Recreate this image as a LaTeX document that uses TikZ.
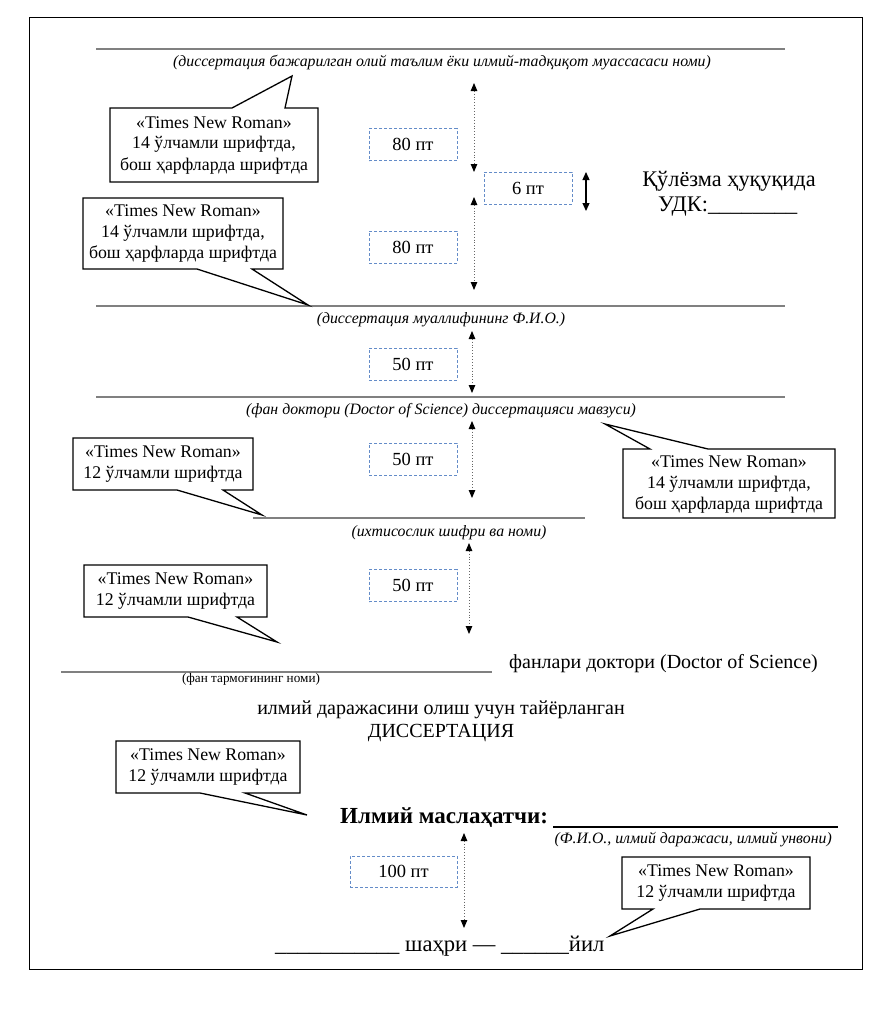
\documentclass[tikz,border=0pt]{standalone}
\usepackage{fontspec}
\setmainfont{Liberation Serif}
\usetikzlibrary{arrows.meta}
\definecolor{hgray}{RGB}{128,128,128}
\definecolor{dblue}{RGB}{100,140,200}
\tikzset{
  hline/.style={draw=hgray, line width=1.4pt},
  callbox/.style={draw=black, line width=1.3pt, fill=white, line join=miter},
  calltext/.style={align=center, font=\fontsize{17.8}{21}\selectfont, inner sep=0pt},
  dbox/.style={draw=dblue, dashed, dash pattern=on 3pt off 2pt, line width=0.9pt, minimum height=32pt, inner sep=0pt, font=\fontsize{18.5}{21}\selectfont},
  darrow/.style={draw=black!60, dotted, line width=0.9pt, {Triangle[length=8pt,width=6.5pt,fill=black,color=black]}-{Triangle[length=8pt,width=6.5pt,fill=black,color=black]}},
  sarrow/.style={draw=black, line width=1.3pt, {Triangle[length=8pt,width=7pt]}-{Triangle[length=8pt,width=7pt]}},
  capt/.style={font=\fontsize{15.8}{18}\itshape\selectfont, inner sep=0pt, anchor=base},
  mtext/.style={font=\fontsize{20}{23}\selectfont, inner sep=0pt, anchor=base},
}
\begin{document}
\begin{tikzpicture}[x=1pt,y=-1pt]
\useasboundingbox (0,0) rectangle (890,1009);
% frame
\draw[line width=1pt] (29,17) rectangle (862,969);

% horizontal lines
\coordinate (l1a) at (96,49);  \coordinate (l1b) at (785,49);
\coordinate (l2a) at (96,306); \coordinate (l2b) at (785,306);
\coordinate (l3a) at (96,397); \coordinate (l3b) at (785,397);
\coordinate (l4a) at (253,518); \coordinate (l4b) at (585,518);
\coordinate (l5a) at (61,672); \coordinate (l5b) at (492,672);
\coordinate (l6a) at (553,827); \coordinate (l6b) at (838,827);
\draw[hline] (l1a) -- (l1b);
\draw[hline] (l2a) -- (l2b);
\draw[hline] (l3a) -- (l3b);
\draw[hline] (l4a) -- (l4b);
\draw[hline] (l5a) -- (l5b);
\draw[line width=1.3pt] (l6a) -- (l6b);

% captions
\node[capt] (cap1) at (442,66) {(диссертация бажарилган олий таълим ёки илмий-тадқиқот муассасаси номи)};
\node[capt] (cap2) at (441,323) {(диссертация муаллифининг Ф.И.О.)};
\node[capt] (cap3) at (441,414) {(фан доктори (Doctor of Science) диссертацияси мавзуси)};
\node[capt] (cap4) at (449,536) {(ихтисослик шифри ва номи)};
\node[inner sep=0pt, anchor=base, font=\fontsize{13.2}{15}\selectfont] (cap5) at (251,682) {(фан тармоғининг номи)};
\node[capt, anchor=base east] (cap6) at (832,843) {(Ф.И.О., илмий даражаси, илмий унвони)};

% main texts
\node[mtext, font=\fontsize{22.3}{25}\selectfont] (kul) at (729,186) {Қўлёзма ҳуқуқида};
\node[mtext, anchor=base west, font=\fontsize{22.3}{25}\selectfont] (udk) at (658,211) {УДК:\_\_\_\_\_\_\_\_};
\node[mtext, anchor=base west] (fan) at (509,668) {фанлари доктори (Doctor of Science)};
\node[mtext] (ilm) at (441,714) {илмий даражасини олиш учун тайёрланган};
\node[mtext] (dis) at (441,737) {ДИССЕРТАЦИЯ};
\node[mtext, anchor=base west, font=\fontsize{23}{26}\bfseries\selectfont] (mas) at (340,823) {Илмий маслаҳатчи:};
\node[mtext, anchor=base west, font=\fontsize{22.6}{25}\selectfont] (shah) at (275,951) {\_\_\_\_\_\_\_\_\_\_\_ шаҳри — \_\_\_\_\_\_йил};

% dashed boxes
\node[dbox, minimum width=88pt] (d1) at (413,144.5) {80 пт};
\node[dbox, minimum width=88pt] (d2) at (413,247) {80 пт};
\node[dbox, minimum width=88pt] (d6) at (528,188) {6 пт};
\node[dbox, minimum width=88pt] (d3) at (413,364) {50 пт};
\node[dbox, minimum width=88pt] (d4) at (413,459) {50 пт};
\node[dbox, minimum width=88pt] (d5) at (413,585.5) {50 пт};
\node[dbox, minimum width=107pt, minimum height=31pt] (d7) at (403.5,871.5) {100 пт};

% dotted arrows
\coordinate (a1t) at (474,83);  \coordinate (a1b) at (474,172);
\coordinate (a2t) at (474,197); \coordinate (a2b) at (474,290);
\coordinate (a3t) at (472,331); \coordinate (a3b) at (472,393);
\coordinate (a4t) at (472,421); \coordinate (a4b) at (472,498);
\coordinate (a5t) at (469,543); \coordinate (a5b) at (469,634);
\coordinate (a6t) at (464,833); \coordinate (a6b) at (464,928);
\draw[darrow] (a1t) -- (a1b);
\draw[darrow] (a2t) -- (a2b);
\draw[darrow] (a3t) -- (a3b);
\draw[darrow] (a4t) -- (a4b);
\draw[darrow] (a5t) -- (a5b);
\draw[darrow] (a6t) -- (a6b);
\coordinate (s1t) at (586,172); \coordinate (s1b) at (586,211);
\draw[sarrow] (s1t) -- (s1b);

% callouts
\draw[callbox] (110,108) -- (232,108) -- (292,76) -- (285,108) -- (318,108) -- (318,182) -- (110,182) -- cycle;
\node[calltext] (c1) at (214,145) {«Times New Roman»\\14 ўлчамли шрифтда,\\бош ҳарфларда шрифтда};

\draw[callbox] (83,198) -- (283,198) -- (283,269) -- (252,269) -- (308,305) -- (197,269) -- (83,269) -- cycle;
\node[calltext] (c2) at (183,233.5) {«Times New Roman»\\14 ўлчамли шрифтда,\\бош ҳарфларда шрифтда};

\draw[callbox] (623,449) -- (650,449) -- (605,424) -- (708,449) -- (835,449) -- (835,518) -- (623,518) -- cycle;
\node[calltext] (c3) at (729,484) {«Times New Roman»\\14 ўлчамли шрифтда,\\бош ҳарфларда шрифтда};

\draw[callbox] (73,438) -- (253,438) -- (253,490) -- (223,490) -- (262,515) -- (177,490) -- (73,490) -- cycle;
\node[calltext] (c4) at (163,464) {«Times New Roman»\\12 ўлчамли шрифтда};

\draw[callbox] (84,565) -- (267,565) -- (267,617) -- (237,617) -- (277,642) -- (188,617) -- (84,617) -- cycle;
\node[calltext] (c5) at (175.5,591) {«Times New Roman»\\12 ўлчамли шрифтда};

\draw[callbox] (116,741) -- (300,741) -- (300,793) -- (245,793) -- (307,815) -- (200,793) -- (116,793) -- cycle;
\node[calltext] (c6) at (208,767) {«Times New Roman»\\12 ўлчамли шрифтда};

\draw[callbox] (622,857) -- (810,857) -- (810,909) -- (700,909) -- (610,936) -- (653,909) -- (622,909) -- cycle;
\node[calltext] (c7) at (716,883) {«Times New Roman»\\12 ўлчамли шрифтда};
\end{tikzpicture}
\end{document}
